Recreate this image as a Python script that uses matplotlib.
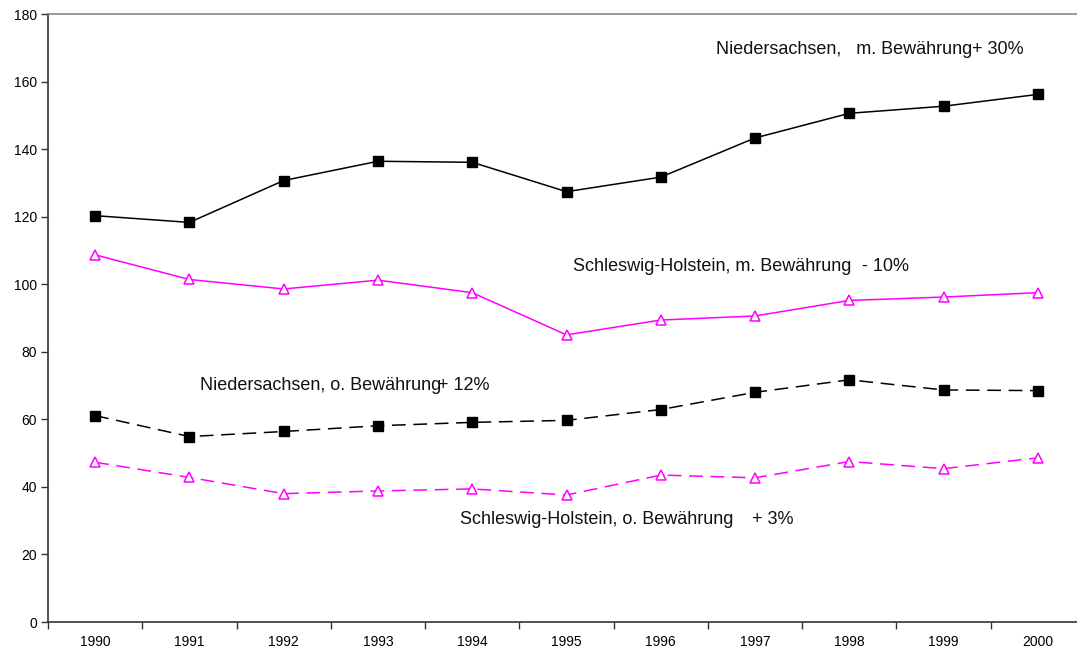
import matplotlib
matplotlib.use("Agg")
import matplotlib.pyplot as plt
import numpy as np

years = ["1990", "1991", "1992", "1993", "1994", "1995", "1996", "1997", "1998", "1999", "2000"]
ns_mit = [120.3, 118.3, 130.7, 136.4, 136.1, 127.4, 131.7, 143.3, 150.6, 152.7, 156.2]
sh_mit = [108.7, 101.4, 98.6, 101.2, 97.5, 85.0, 89.4, 90.6, 95.2, 96.2, 97.5]
ns_ohne = [61.1, 54.9, 56.4, 58.1, 59.1, 59.7, 62.9, 68.0, 71.7, 68.7, 68.5]
sh_ohne = [47.3, 42.8, 38.0, 38.8, 39.4, 37.6, 43.5, 42.7, 47.5, 45.4, 48.6]
y_ticks = [0, 20, 40, 60, 80, 100, 120, 140, 160, 180]

plt.rcParams['font.family'] = ['Liberation Sans', 'DejaVu Sans']

W, H = 1077, 651
fig = plt.figure(figsize=(W / 100, H / 100), dpi=100)
ax = fig.add_axes([48 / W, 1 - 622 / H, (1085 - 48) / W, (622 - 14) / H])

x = np.arange(len(years))
mag = '#FF00FF'
ax.plot(x, ns_mit, color='black', lw=1.1, marker='s', ms=7, mfc='black', mec='black')
ax.plot(x, sh_mit, color=mag, lw=1.1, marker='^', ms=6.5, mfc='white', mec=mag, mew=1.1)
ax.plot(x, ns_ohne, color='black', lw=1.1, ls=(0, (9, 5)), marker='s', ms=7, mfc='black', mec='black')
ax.plot(x, sh_ohne, color=mag, lw=1.1, ls=(0, (9, 5)), marker='^', ms=6.5, mfc='white', mec=mag, mew=1.1)

ax.set_xlim(-0.5, len(years) - 0.5)
ax.set_ylim(0, 180)
ax.set_yticks(y_ticks)
ax.set_yticklabels([str(v) for v in y_ticks], fontsize=10)
ax.set_xticks(x)
ax.set_xticklabels(years, fontsize=10)
ax.set_xticks(np.arange(-0.5, len(years), 1.0), minor=True)
ax.tick_params(axis='x', which='major', length=0, pad=9)
ax.tick_params(axis='x', which='minor', length=5, width=1, color='#333333', direction='out')
ax.tick_params(axis='y', length=5, width=1, color='#333333', direction='out', pad=3)

for s in ['left', 'bottom']:
    ax.spines[s].set_color('#333333')
    ax.spines[s].set_linewidth(1.2)
ax.spines['top'].set_color('#888888')
ax.spines['top'].set_linewidth(1.2)
ax.spines['right'].set_visible(False)

def ftext(px, py, s, **kw):
    fig.text(px / W, 1 - py / H, s, fontsize=13, va='center', ha='left', color='#111111', **kw)

ftext(716, 50, "Niedersachsen,   m. Bewährung")
ftext(972, 50, "+ 30%")
ftext(573, 266, "Schleswig-Holstein, m. Bewährung")
ftext(862, 266, "- 10%")
ftext(200, 386, "Niedersachsen, o. Bewährung")
ftext(438, 386, "+ 12%")
ftext(460, 519, "Schleswig-Holstein, o. Bewährung")
ftext(752, 519, "+ 3%")

fig.savefig("out.png", dpi=100)
